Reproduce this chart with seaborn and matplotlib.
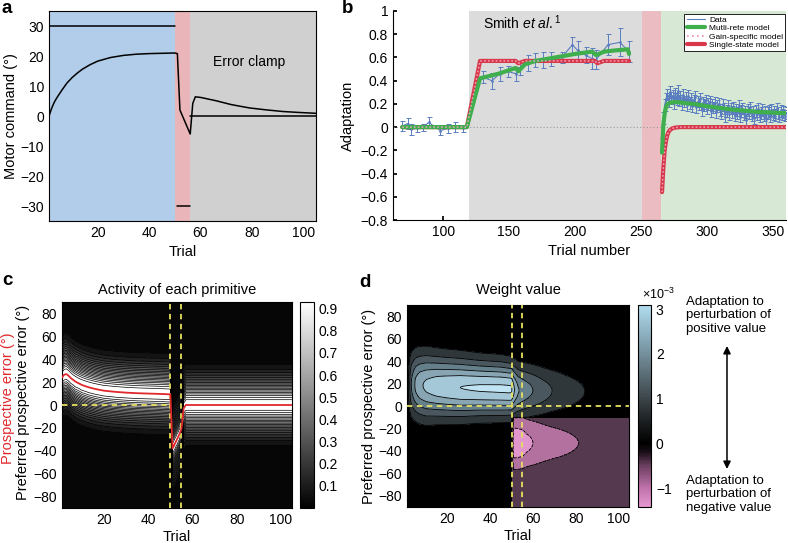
import numpy as np
import seaborn as sns
import matplotlib
matplotlib.use('Agg')
import matplotlib.pyplot as plt
from matplotlib.colors import LinearSegmentedColormap, Normalize
from matplotlib.cm import ScalarMappable
from matplotlib.lines import Line2D

# ---------------- data: panel a ----------------
pert_x = [[1, 50], [51, 56], [56, 105]]
pert_y = [[30, 30], [-30, -30], [0, 0]]
motor_trials = [1, 2, 3, 4, 5, 6, 8, 10, 12, 14, 17, 20, 25, 30, 35, 40, 50, 51, 52, 56,
                57, 58, 60, 66, 72, 79, 85, 92, 98, 105]
motor_cmd = [0, 2.5, 4.5, 6.0, 7.3, 8.6, 11.0, 12.8, 14.3, 15.6, 17.1, 18.3, 19.5, 20.2, 20.6, 20.8, 21.0, 20.8, 2.0, -6.0,
             4.2, 6.4, 6.2, 5.1, 3.8, 2.7, 2.1, 1.5, 1.2, 0.9]

# ---------------- data: panel b ----------------
base_trials = [69, 73, 76, 80, 85, 89, 98, 104, 109, 115]
base_adapt = [0.01, 0.03, -0.02, -0.01, 0.0, 0.04, -0.03, -0.01, 0.0, -0.01]
base_sem = [0.04, 0.05, 0.05, 0.03, 0.03, 0.05, 0.04, 0.04, 0.04, 0.03]

train_trials = [130, 137, 143, 149, 155, 158, 164, 170, 176, 182, 190, 198, 202, 208, 213, 216, 225, 234, 241]
train_adapt = [0.43, 0.40, 0.46, 0.48, 0.46, 0.50, 0.55, 0.58, 0.58, 0.59, 0.60, 0.71, 0.66, 0.62, 0.59, 0.58, 0.71, 0.73, 0.65]
train_sem = [0.05, 0.07, 0.06, 0.05, 0.06, 0.05, 0.07, 0.06, 0.07, 0.06, 0.05, 0.07, 0.08, 0.07, 0.09, 0.08, 0.09, 0.12, 0.09]

clamp_trials = list(range(266, 361))
clamp_adapt = [-0.14, 0.08, 0.19, 0.24, 0.28, 0.22, 0.30, 0.25, 0.27, 0.21,
               0.29, 0.24, 0.31, 0.23, 0.26, 0.20, 0.28, 0.22, 0.25, 0.19,
               0.27, 0.21, 0.24, 0.18, 0.23, 0.26, 0.17, 0.22, 0.20, 0.24,
               0.15, 0.21, 0.19, 0.23, 0.16, 0.20, 0.22, 0.14, 0.19, 0.17,
               0.21, 0.13, 0.18, 0.20, 0.15, 0.12, 0.19, 0.16, 0.09, 0.14,
               0.18, 0.11, 0.16, 0.13, 0.17, 0.10, 0.15, 0.12, 0.18, 0.09,
               0.14, 0.16, 0.11, 0.13, 0.06, 0.15, 0.12, 0.17, 0.10, 0.13,
               0.08, 0.14, 0.11, 0.16, 0.09, 0.12, 0.15, 0.10, 0.13, 0.07,
               0.12, 0.14, 0.09, 0.15, 0.11, 0.13, 0.10, 0.16, 0.12, 0.09,
               0.14, 0.11, 0.13, 0.10, 0.12]
clamp_sem = 0.05

multi_trials_a = [69, 118, 128, 135, 142, 150, 155, 157, 162, 170, 180, 190, 200, 213, 216, 222, 230, 240, 241]
multi_a = [0, 0, 0.42, 0.44, 0.46, 0.49, 0.51, 0.48, 0.54, 0.57, 0.59, 0.61, 0.63, 0.65, 0.62, 0.65, 0.66, 0.67, 0.63]
multi_trials_b = [266, 267, 268, 269, 270, 272, 275, 278, 285, 290, 300, 310, 320, 330, 340, 350, 360]
multi_b = [-0.22, 0.02, 0.12, 0.17, 0.195, 0.21, 0.215, 0.215, 0.205, 0.20, 0.18, 0.165, 0.15, 0.14, 0.13, 0.125, 0.12]

single_trials_a = [69, 118, 128, 155, 157, 162, 215, 217, 222, 241]
single_a = [0, 0, 0.57, 0.57, 0.55, 0.57, 0.57, 0.55, 0.57, 0.57]
single_trials_b = [266, 267, 268, 269, 270, 271, 272, 274, 276, 280, 360]
single_b = [-0.56, -0.35, -0.2, -0.12, -0.07, -0.04, -0.025, -0.01, -0.004, 0, 0]

# ---------------- data: panel c ----------------
c_trials = [1, 2, 3, 4, 5, 7, 10, 13, 16, 20, 25, 30, 35, 40, 45, 50, 51, 52, 53, 54, 55, 56, 57, 58, 60, 70, 80, 90, 100, 105]
prosp_error = [24, 26.5, 27, 25.5, 23.5, 20.5, 17.5, 15.5, 14, 12.5, 11.5, 10.8, 10.3, 10, 9.7, 9.3,
               -38, -34, -30, -26, -21, -3, 0, 0, 0, 0, 0, 0, 0, 0]
tuning_width = 14.5

# ---------------- data: panel d ----------------
d_trials = [1, 2, 3, 5, 7, 10, 15, 20, 26, 35, 45, 49, 50, 51, 52, 53, 55, 57, 60, 65, 69, 75, 80, 85, 90, 95, 100, 105]
pos_amp = [0.0, 0.8, 1.5, 2.1, 2.4, 2.6, 2.8, 2.9, 3.0, 3.05, 3.07, 3.07, 3.05, 2.6, 2.3, 2.05, 1.85, 1.7, 1.5, 1.2,
           1.0, 0.78, 0.62, 0.48, 0.38, 0.31, 0.25, 0.2]
pos_center = [19, 19, 19, 19, 18.5, 18, 17.5, 17, 16.5, 16, 15.5, 15, 15, 14.5, 14.5, 14, 14, 14, 14, 13.5,
              13.5, 13, 13, 13, 13, 13, 13, 13]
pos_width = [19.5, 19.5, 19.5, 19.5, 19.5, 19.5, 18.5, 18, 17.5, 16.5, 16, 15.5, 15.5, 15.5, 15.5, 15.5, 15.5, 15.5,
             15.5, 15.5, 15.5, 15.5, 15.5, 15.5, 15.5, 15.5, 15.5, 15.5]
neg_amp = [0, 0, 0, 0, 0, 0, 0, 0, 0, 0, 0, 0, 0, 1.25, 1.25, 1.22, 1.15, 0.95, 0.8, 0.6,
           0.5, 0.4, 0.32, 0.25, 0.2, 0.16, 0.12, 0.1]
neg_floor = 0.2
neg_center = -33
neg_width = 14

# ---------------- style ----------------
sns.set_theme(style='white', rc={
    'xtick.direction': 'in', 'ytick.direction': 'in',
    'xtick.bottom': True, 'ytick.left': True,
    'axes.edgecolor': 'black', 'axes.linewidth': 0.8,
    'xtick.major.size': 3, 'ytick.major.size': 3,
    'xtick.minor.size': 3, 'ytick.minor.size': 3,
    'xtick.color': 'black', 'ytick.color': 'black',
    'text.color': 'black', 'axes.labelcolor': 'black',
    'font.size': 10, 'axes.labelsize': 10.5,
    'xtick.labelsize': 10, 'ytick.labelsize': 10,
})
plt.rcParams['font.family'] = ['Liberation Sans', 'DejaVu Sans']
plt.rcParams['mathtext.fontset'] = 'custom'
plt.rcParams['mathtext.rm'] = 'Liberation Sans'
plt.rcParams['mathtext.it'] = 'Liberation Sans:italic'

W, H = 788, 543
fig = plt.figure(figsize=(W / 100, H / 100), dpi=100)


def box(l, t, r, b):
    return [l / W, 1 - b / H, (r - l) / W, (b - t) / H]


# ================= panel a =================
ax_a = fig.add_axes(box(49, 11, 316, 221))
ax_a.axvspan(1, 50, color='#b1cde9', lw=0)
ax_a.axvspan(50, 56, color='#e9b5b9', lw=0)
ax_a.axvspan(56, 105, color='#d0d0d0', lw=0)
for xs, ys in zip(pert_x, pert_y):
    sns.lineplot(x=xs, y=ys, ax=ax_a, color='black', linewidth=1.1, estimator=None, sort=False)
sns.lineplot(x=motor_trials, y=motor_cmd, ax=ax_a, color='black', linewidth=1.1, estimator=None, sort=False)
ax_a.set_xlim(1, 105)
ax_a.set_ylim(-35, 35)
ax_a.set_xticks([20, 40, 60, 80, 100])
ax_a.set_xticks([10, 30, 50, 70, 90], minor=True)
ax_a.set_yticks([-30, -20, -10, 0, 10, 20, 30])
ax_a.set_yticklabels(['\u221230', '\u221220', '\u221210', '0', '10', '20', '30'])
ax_a.tick_params(which='both', top=True, right=True, direction='in', length=3)
ax_a.set_xlabel('Trial', labelpad=4)
ax_a.set_ylabel('Motor command (\u00b0)', labelpad=2)
ax_a.text(65, 18, 'Error clamp', fontsize=10, va='center', ha='left')

# ================= panel b =================
blue = '#5a7dc0'
green = '#3fae4c'
red = '#d8384a'
ax_b = fig.add_axes(box(393, 11, 786, 220))
ax_b.axvspan(120, 251, color='#dcdcdc', lw=0)
ax_b.axvspan(251, 265, color='#ebbdc2', lw=0)
ax_b.axvspan(265, 360, color='#d7e9d5', lw=0)
ax_b.axhline(0, color='#999999', lw=0.8, ls=(0, (1, 2)), zorder=1)
for tr, ad, se in [(base_trials, base_adapt, base_sem), (train_trials, train_adapt, train_sem),
                   (clamp_trials, clamp_adapt, clamp_sem)]:
    ax_b.errorbar(tr, ad, yerr=se, fmt='none', ecolor=blue, elinewidth=0.7, capsize=1.8, capthick=0.7, zorder=3)
    sns.lineplot(x=tr, y=ad, ax=ax_b, color=blue, linewidth=0.8, estimator=None, sort=False,
                 marker='o', markersize=2, markeredgewidth=0, zorder=3)
for xs, ys in [(single_trials_a, single_a), (single_trials_b, single_b)]:
    sns.lineplot(x=xs, y=ys, ax=ax_b, color=red, linewidth=3, estimator=None, sort=False, zorder=4)
    sns.lineplot(x=xs, y=ys, ax=ax_b, color='#f2a6c4', linewidth=1.0, linestyle=(0, (1.2, 1.6)),
                 estimator=None, sort=False, zorder=5)
for xs, ys in [(multi_trials_a, multi_a), (multi_trials_b, multi_b)]:
    sns.lineplot(x=xs, y=ys, ax=ax_b, color=green, linewidth=3, estimator=None, sort=False, zorder=4)
ax_b.set_xlim(62, 360)
ax_b.set_ylim(-0.8, 1)
ax_b.set_xticks([100, 150, 200, 250, 300, 350])
yt = [-0.8, -0.6, -0.4, -0.2, 0, 0.2, 0.4, 0.6, 0.8, 1]
ax_b.set_yticks(yt)
ax_b.set_yticklabels(['\u22120.8', '\u22120.6', '\u22120.4', '\u22120.2', '0', '0.2', '0.4', '0.6', '0.8', '1'])
for s in ['top', 'right']:
    ax_b.spines[s].set_visible(False)
ax_b.tick_params(direction='in', length=3)
ax_b.set_xlabel('Trial number', labelpad=4)
ax_b.set_ylabel('Adaptation', labelpad=4)
ax_b.text(130, 0.9, r'Smith $\mathit{et\ al.}^{\mathrm{1}}$', fontsize=10, va='center', ha='left')
handles = [Line2D([], [], color=blue, lw=0.8),
           Line2D([], [], color=green, lw=3),
           Line2D([], [], color='#e88ab0', lw=1.2, ls=(0, (1, 2))),
           Line2D([], [], color=red, lw=3)]
leg = ax_b.legend(handles, ['Data', 'Mutli-rete model', 'Gain-specific model', 'Single-state model'],
                  loc='upper right', bbox_to_anchor=(0.998, 0.985), fontsize=6, frameon=True,
                  fancybox=False, framealpha=1, edgecolor='black', borderpad=0.25, labelspacing=0.05,
                  handlelength=2.2, handletextpad=0.5, borderaxespad=0)
leg.get_frame().set_linewidth(0.6)

# ================= panel c =================
ax_c = fig.add_axes(box(62, 302, 292, 508))
ax_c.set_facecolor('black')
pref = np.linspace(-90, 90, 361)
T, P = np.meshgrid(np.array(c_trials, float), pref)
act = np.exp(-(P - np.array(prosp_error)) ** 2 / (2 * tuning_width ** 2))
lev_c = np.arange(0, 1.0001, 0.05)
ax_c.contourf(T, P, act, levels=lev_c, cmap='gray', vmin=0, vmax=0.93)
ax_c.contour(T, P, act, levels=lev_c[1:-1], colors='black', linewidths=0.5)
ax_c.hlines(0, 1, 50, colors='#e6e060', linestyles=(0, (3, 2.5)), lw=1.3, zorder=5)
ax_c.vlines([50, 55], -90, 90, colors='#e6e060', linestyles=(0, (3, 2.5)), lw=1.3, zorder=5)
sns.lineplot(x=c_trials, y=prosp_error, ax=ax_c, color='#e0282c', linewidth=1.3, estimator=None, sort=False, zorder=6)
ax_c.set_xlim(1, 105)
ax_c.set_ylim(-90, 90)
ax_c.set_xticks([20, 40, 60, 80, 100])
ax_c.set_yticks([-80, -60, -40, -20, 0, 20, 40, 60, 80])
ax_c.set_yticklabels(['\u221280', '\u221260', '\u221240', '\u221220', '0', '20', '40', '60', '80'])
ax_c.tick_params(direction='in', length=3, color='#444444')
ax_c.set_xlabel('Trial', labelpad=2)
ax_c.set_ylabel('')
ax_c.set_title('Activity of each primitive', fontsize=10.5, pad=6)
fig.text(23 / W, 1 - 402 / H, 'Preferred prospective error (\u00b0)', rotation=90, ha='center', va='center', fontsize=10.5)
fig.text(8 / W, 1 - 398 / H, 'Prospective error (\u00b0)', rotation=90, ha='center', va='center', fontsize=10.5,
         color='#e0282c')

cax_c = fig.add_axes(box(300, 302, 314, 508))
cb_c = fig.colorbar(ScalarMappable(norm=Normalize(0, 0.93), cmap='gray'), cax=cax_c)
cb_c.set_ticks([0.1, 0.2, 0.3, 0.4, 0.5, 0.6, 0.7, 0.8, 0.9])
cb_c.ax.tick_params(labelsize=10, length=2, direction='in')
cb_c.outline.set_linewidth(0.8)

# ================= panel d =================
ax_d = fig.add_axes(box(407, 305, 629, 507))
ax_d.set_facecolor('black')
err = np.linspace(-90, 90, 361)
Td, E = np.meshgrid(np.array(d_trials, float), err)
w_pos = np.array(pos_amp) * np.exp(-(E - np.array(pos_center)) ** 2 / (2 * np.array(pos_width) ** 2))
w_neg = -(neg_floor + np.array(neg_amp) * np.exp(-(E - neg_center) ** 2 / (2 * neg_width ** 2)))
weight = np.where((Td >= 51) & (E < -10), w_neg, w_pos)
lev_d = [-1.5, -1.0, -0.5, 0, 0.5, 1.0, 1.5, 2.0, 2.5, 3.0, 3.5]
band_colors = ['#e197cd', '#b2719f', '#553a4f', '#000000', '#30373b', '#4a575e', '#66808b', '#87a5b3',
               '#a5c8d8', '#c0e4f3']
ax_d.contourf(Td, E, weight, levels=lev_d, colors=band_colors)
ax_d.contour(Td, E, weight, levels=[-1.0, -0.5, 0.5, 1.0, 1.5, 2.0, 2.5, 3.0], colors='black', linewidths=0.6)
ax_d.axhline(0, color='#e6e060', ls=(0, (3, 2.5)), lw=1.3, zorder=5)
ax_d.vlines([50, 55], -90, 90, colors='#e6e060', linestyles=(0, (3, 2.5)), lw=1.3, zorder=5)
ax_d.set_xlim(1, 105)
ax_d.set_ylim(-90, 90)
ax_d.set_xticks([20, 40, 60, 80, 100])
ax_d.set_yticks([-80, -60, -40, -20, 0, 20, 40, 60, 80])
ax_d.set_yticklabels(['\u221280', '\u221260', '\u221240', '\u221220', '0', '20', '40', '60', '80'])
ax_d.tick_params(direction='in', length=3, color='#444444')
ax_d.set_xlabel('Trial', labelpad=2)
ax_d.set_ylabel('Preferred prospective error (\u00b0)', labelpad=2)
ax_d.set_title('Weight value', fontsize=10.5, pad=8)

vmin_d, vmax_d = -1.42, 3.09
stops = [(-1.42, '#e597d0'), (-1.0, '#bf72aa'), (-0.5, '#6a3f5f'), (-0.2, '#1a0f18'), (0, '#000000'),
         (0.5, '#1c2022'), (1.0, '#3c4549'), (2.0, '#748f9c'), (3.09, '#b0ddef')]
cmap_d = LinearSegmentedColormap.from_list('wv', [((v - vmin_d) / (vmax_d - vmin_d), c) for v, c in stops])
cax_d = fig.add_axes(box(638, 305, 651, 507))
cb_d = fig.colorbar(ScalarMappable(norm=Normalize(vmin_d, vmax_d), cmap=cmap_d), cax=cax_d)
cb_d.set_ticks([-1, 0, 1, 2, 3])
cb_d.set_ticklabels(['\u22121', '0', '1', '2', '3'])
cb_d.ax.tick_params(labelsize=10, length=2, direction='in')
cb_d.outline.set_linewidth(0.8)
fig.text(642 / W, 1 - 294 / H, r'$\times10^{-3}$', fontsize=9, ha='left', va='center')

# right-side annotation
fig.text(686 / W, 1 - 296 / H, 'Adaptation to\nperturbation of\npositive value', fontsize=9.5,
         ha='left', va='top', linespacing=1.15)
fig.text(686 / W, 1 - 475 / H, 'Adaptation to\nperturbation of\nnegative value', fontsize=9.5,
         ha='left', va='top', linespacing=1.15)
ax_d.annotate('', xy=(727 / W, 1 - 346 / H), xytext=(727 / W, 1 - 469 / H),
              xycoords='figure fraction', textcoords='figure fraction', annotation_clip=False,
              arrowprops=dict(arrowstyle='<|-|>', color='black', lw=1.1, mutation_scale=11,
                              shrinkA=0, shrinkB=0))

# panel letters
for lab, x, y in [('a', 2, 0), ('b', 342, 0), ('c', 2, 272), ('d', 359, 274)]:
    fig.text(x / W, 1 - y / H, lab, fontsize=13.5, fontweight='bold', ha='left', va='top')

fig.savefig('out.png', dpi=100)
